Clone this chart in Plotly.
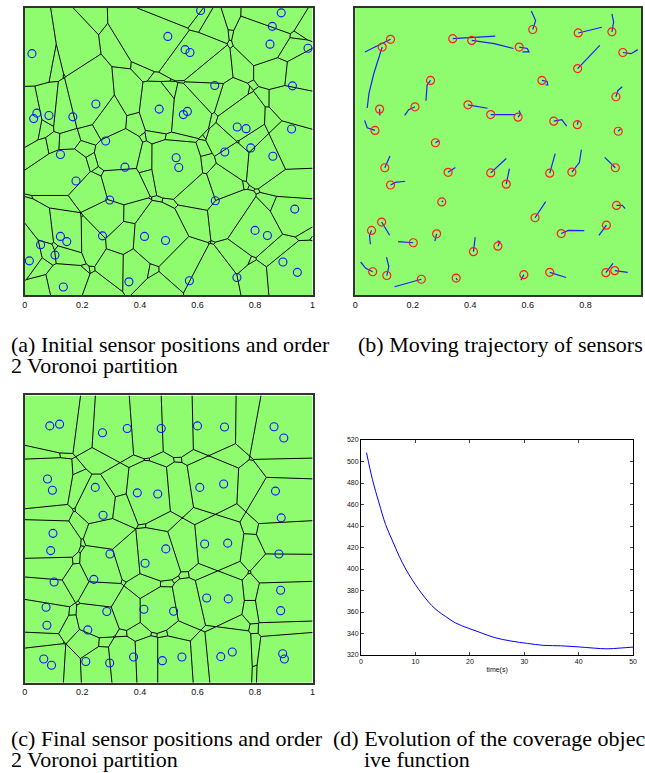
import numpy as np
import plotly.graph_objects as go

W, H = 645, 773

# ---------------- data ----------------
# (a) initial sensor positions
xa = [0.611, 0.891, 0.860, 0.497, 0.852, 0.557, 0.574, 0.025, 0.984, 0.660,
      0.930, 0.247, 0.467, 0.565, 0.551, 0.042, 0.084, 0.031, 0.167, 0.738,
      0.769, 0.927, 0.281, 0.785, 0.695, 0.124, 0.526, 0.862, 0.535, 0.348,
      0.178, 0.295, 0.662, 0.938, 0.800, 0.843, 0.124, 0.146, 0.270, 0.416,
      0.489, 0.055, 0.105, 0.016, 0.897, 0.947, 0.737, 0.362, 0.572, 0.134]
ya = [0.991, 0.983, 0.936, 0.901, 0.874, 0.855, 0.845, 0.841, 0.860, 0.730,
      0.729, 0.666, 0.648, 0.640, 0.629, 0.634, 0.626, 0.615, 0.621, 0.586,
      0.580, 0.579, 0.537, 0.513, 0.499, 0.490, 0.479, 0.484, 0.445, 0.446,
      0.398, 0.332, 0.329, 0.300, 0.226, 0.208, 0.205, 0.187, 0.207, 0.205,
      0.191, 0.176, 0.140, 0.120, 0.116, 0.080, 0.062, 0.047, 0.051, 0.029]

# (c) final sensor positions
xc = [0.087, 0.121, 0.270, 0.356, 0.474, 0.600, 0.694, 0.866, 0.900, 0.079,
      0.096, 0.245, 0.391, 0.462, 0.608, 0.691, 0.871, 0.272, 0.891, 0.098,
      0.090, 0.296, 0.490, 0.418, 0.625, 0.705, 0.883, 0.102, 0.240, 0.889,
      0.632, 0.707, 0.889, 0.074, 0.285, 0.414, 0.517, 0.077, 0.219, 0.066,
      0.093, 0.212, 0.295, 0.378, 0.478, 0.546, 0.681, 0.721, 0.896, 0.902]
yc = [0.894, 0.900, 0.870, 0.885, 0.885, 0.894, 0.890, 0.891, 0.852, 0.709,
      0.670, 0.680, 0.661, 0.657, 0.680, 0.692, 0.667, 0.583, 0.574, 0.520,
      0.460, 0.448, 0.466, 0.416, 0.483, 0.486, 0.448, 0.351, 0.360, 0.322,
      0.295, 0.292, 0.251, 0.263, 0.248, 0.256, 0.249, 0.200, 0.184, 0.083,
      0.061, 0.074, 0.069, 0.090, 0.077, 0.090, 0.091, 0.107, 0.101, 0.083]

# (b) trajectories: first point of each path is the final position (red circle)
path_x = [
    [0.617, 0.627, 0.612], [0.775, 0.857], [0.892, 0.898, 0.892], [0.123, 0.034],
    [0.094, 0.065, 0.048, 0.042], [0.339, 0.487], [0.405, 0.483, 0.550],
    [0.570, 0.598, 0.604, 0.581], [0.930, 0.959, 0.982], [0.773, 0.850],
    [0.262, 0.250, 0.246], [0.649, 0.667, 0.669, 0.661], [0.906, 0.913, 0.928],
    [0.085, 0.086], [0.208, 0.186, 0.172], [0.392, 0.460], [0.471, 0.558],
    [0.566, 0.575, 0.569], [0.690, 0.718, 0.735], [0.772, 0.775], [0.914, 0.922],
    [0.069, 0.042, 0.033], [0.279, 0.292], [0.103, 0.121], [0.323, 0.348],
    [0.471, 0.525], [0.525, 0.536], [0.676, 0.695], [0.753, 0.779, 0.786],
    [0.904, 0.867], [0.123, 0.140, 0.174], [0.301, 0.306], [0.625, 0.662],
    [0.908, 0.928, 0.938], [0.092, 0.120], [0.057, 0.050, 0.053], [0.202, 0.149],
    [0.283, 0.277], [0.411, 0.417], [0.496, 0.503, 0.495], [0.716, 0.741, 0.796],
    [0.873, 0.847], [0.061, 0.037, 0.019], [0.110, 0.117, 0.109], [0.230, 0.137],
    [0.351, 0.355], [0.586, 0.576], [0.676, 0.733], [0.871, 0.896], [0.902, 0.947]]
path_y = [
    [0.925, 0.956, 0.989], [0.913, 0.933], [0.917, 0.951, 0.979], [0.891, 0.847],
    [0.864, 0.772, 0.703, 0.652], [0.893, 0.902], [0.887, 0.876, 0.859],
    [0.864, 0.859, 0.847, 0.847], [0.845, 0.841, 0.855], [0.789, 0.870],
    [0.748, 0.732, 0.677], [0.748, 0.744, 0.732, 0.732], [0.691, 0.713, 0.726],
    [0.648, 0.626], [0.656, 0.646, 0.626], [0.663, 0.651], [0.629, 0.629],
    [0.620, 0.631, 0.643], [0.606, 0.611, 0.589], [0.594, 0.606], [0.571, 0.579],
    [0.574, 0.583, 0.609], [0.531, 0.539], [0.444, 0.485], [0.428, 0.445],
    [0.426, 0.476], [0.387, 0.441], [0.425, 0.493], [0.429, 0.462, 0.507],
    [0.444, 0.480], [0.384, 0.393, 0.397], [0.325, 0.329], [0.270, 0.326],
    [0.313, 0.313, 0.302], [0.255, 0.209], [0.226, 0.209, 0.178], [0.183, 0.187],
    [0.214, 0.189], [0.152, 0.202], [0.171, 0.186, 0.190], [0.215, 0.226, 0.225],
    [0.244, 0.209], [0.082, 0.094, 0.116], [0.069, 0.100, 0.133], [0.056, 0.030],
    [0.060, 0.053], [0.072, 0.053], [0.080, 0.062], [0.079, 0.111], [0.086, 0.080]]

# (d) coverage objective vs time
t_d = [1.0, 2.1, 3.3, 4.5, 5.8, 7.0, 8.2, 9.4, 10.6, 11.8, 13.0, 14.2, 15.5,
       17.3, 19.7, 22.1, 24.5, 27.6, 30.6, 33.6, 36.7, 39.7, 42.7, 45.2, 47.6, 50.0]
J_d = [508.3, 483.0, 461.5, 441.5, 426.0, 412.0, 400.0, 390.0, 381.0, 373.0,
       366.0, 360.6, 356.0, 350.0, 345.0, 340.6, 336.3, 333.0, 330.8, 329.0,
       328.6, 327.7, 326.5, 325.8, 326.5, 327.4]

sq_ticks = [0, 0.2, 0.4, 0.6, 0.8, 1]
sq_tick_text = ["0", "0.2", "0.4", "0.6", "0.8", "1"]
d_xticks = [0, 10, 20, 30, 40, 50]
d_yticks = [320, 340, 360, 380, 400, 420, 440, 460, 480, 500, 520]

captions = [
    ("(a) Initial sensor positions and order", 6, 344),
    ("2 Voronoi partition", 6, 365),
    ("(b) Moving trajectory of sensors", 357, 344),
    ("(c) Final sensor positions and order", 6, 741),
    ("2 Voronoi partition", 6, 762),
    ("(d) Evolution of the coverage object", 332, 741),
    ("ive function", 363, 762),
]

GREEN = "#8ffc70"
BLUE = "rgb(20,20,255)"


# ---------------- order-2 Voronoi edges ----------------
def order2_edges(px, py):
    P = np.column_stack([px, py]).astype(float)
    n = len(P)
    sq = np.sum(P ** 2, axis=1)
    xs, ys = [], []
    for j in range(n):
        for k in range(j + 1, n):
            pj, pk = P[j], P[k]
            m = (pj + pk) / 2
            v = pk - pj
            d = np.array([-v[1], v[0]]) / np.hypot(v[0], v[1])
            tlo, thi = -np.inf, np.inf
            ok = True
            for ax in range(2):
                if abs(d[ax]) < 1e-12:
                    if m[ax] < 0 or m[ax] > 1:
                        ok = False
                    continue
                t1 = (0 - m[ax]) / d[ax]
                t2 = (1 - m[ax]) / d[ax]
                tlo = max(tlo, min(t1, t2))
                thi = min(thi, max(t1, t2))
            if not ok or tlo >= thi:
                continue
            idx = np.array([i for i in range(n) if i != j and i != k])
            Q = P[idx]
            diff = pj - Q
            a = 2 * (diff @ m) - (sq[j] - sq[idx])
            b = 2 * (diff @ d)
            with np.errstate(divide="ignore", invalid="ignore"):
                br = -a / b
            br = br[np.isfinite(br)]
            br = br[(br > tlo) & (br < thi)]
            ts = np.concatenate([[tlo], np.sort(br), [thi]])
            mids = (ts[:-1] + ts[1:]) / 2
            cnt = np.sum(a[:, None] + b[:, None] * mids[None, :] < 0, axis=0)
            keep = cnt == 1
            s = 0
            while s < len(mids):
                if keep[s]:
                    e = s
                    while e + 1 < len(mids) and keep[e + 1]:
                        e += 1
                    p0 = m + ts[s] * d
                    p1 = m + ts[e + 1] * d
                    xs += [p0[0], p1[0], None]
                    ys += [p0[1], p1[1], None]
                    s = e + 1
                else:
                    s += 1
    return xs, ys


fig = go.Figure()

# (a)
ex, ey = order2_edges(xa, ya)
fig.add_trace(go.Scatter(x=ex, y=ey, mode="lines", line=dict(color="black", width=1),
                         hoverinfo="skip", xaxis="x", yaxis="y", showlegend=False))
fig.add_trace(go.Scatter(x=xa, y=ya, mode="markers", cliponaxis=False,
                         marker=dict(symbol="circle-open", size=8, color=BLUE, line=dict(width=1.1)),
                         xaxis="x", yaxis="y", showlegend=False))

# (b)
tx, ty = [], []
for px_, py_ in zip(path_x, path_y):
    tx += list(px_) + [None]
    ty += list(py_) + [None]
fig.add_trace(go.Scatter(x=tx, y=ty, mode="lines", line=dict(color="rgb(30,30,255)", width=1.2),
                         hoverinfo="skip", xaxis="x2", yaxis="y2", showlegend=False))
fig.add_trace(go.Scatter(x=[p[0] for p in path_x], y=[p[0] for p in path_y], mode="markers",
                         marker=dict(symbol="circle-open", size=8, color="rgb(255,30,30)", line=dict(width=1.2)),
                         xaxis="x2", yaxis="y2", showlegend=False))

# (c)
ex, ey = order2_edges(xc, yc)
fig.add_trace(go.Scatter(x=ex, y=ey, mode="lines", line=dict(color="black", width=1),
                         hoverinfo="skip", xaxis="x3", yaxis="y3", showlegend=False))
fig.add_trace(go.Scatter(x=xc, y=yc, mode="markers", cliponaxis=False,
                         marker=dict(symbol="circle-open", size=8, color=BLUE, line=dict(width=1.1)),
                         xaxis="x3", yaxis="y3", showlegend=False))

# (d)
fig.add_trace(go.Scatter(x=t_d, y=J_d, mode="lines", line=dict(color="rgb(0,0,255)", width=1, shape="spline"),
                         xaxis="x4", yaxis="y4", showlegend=False))


def px2x(p):
    return p / W


def py2y(p):
    return 1 - p / H


sq_font = dict(family="Liberation Sans, Arial", size=9, color="#111")
sq_x = dict(range=[0, 1], tickvals=sq_ticks, ticktext=sq_tick_text, ticks="", showgrid=False,
            zeroline=False, showline=True, mirror=True, linecolor="#333", linewidth=1.5,
            tickfont=sq_font)
sq_y = dict(range=[0, 1], showticklabels=False, ticks="", showgrid=False, zeroline=False,
            showline=True, mirror=True, linecolor="#333", linewidth=1.5)

fig.update_layout(
    width=W, height=H, margin=dict(l=0, r=0, t=0, b=0),
    paper_bgcolor="white", plot_bgcolor="rgba(0,0,0,0)",
    xaxis=dict(sq_x, domain=[px2x(22), px2x(313)], anchor="y"),
    yaxis=dict(sq_y, domain=[py2y(294), py2y(4)], anchor="x"),
    xaxis2=dict(sq_x, domain=[px2x(356), 1.0], anchor="y2", range=[0, (W - 356) / 291.0]),
    yaxis2=dict(sq_y, domain=[py2y(294), py2y(4)], anchor="x2"),
    xaxis3=dict(sq_x, domain=[px2x(22), px2x(313)], anchor="y3"),
    yaxis3=dict(sq_y, domain=[py2y(685), py2y(395)], anchor="x3"),
    xaxis4=dict(domain=[px2x(362), px2x(637)], anchor="y4", range=[0, 50], tickvals=d_xticks,
                ticks="inside", ticklen=3, showline=True, mirror="ticks", linecolor="black",
                linewidth=1, showgrid=False, zeroline=False,
                tickfont=dict(family="Liberation Sans, Arial", size=7, color="#111"),
                title=dict(text="time(s)", font=dict(family="Liberation Sans, Arial", size=7, color="#111"),
                           standoff=2)),
    yaxis4=dict(domain=[py2y(657), py2y(440)], anchor="x4", range=[320, 520], tickvals=d_yticks,
                ticks="inside", ticklen=3, showline=True, mirror="ticks", linecolor="black",
                linewidth=1, showgrid=False, zeroline=False,
                tickfont=dict(family="Liberation Sans, Arial", size=7, color="#111")),
    font=dict(family="Liberation Sans, Arial"),
)

for xr, yr in [("x", "y"), ("x2", "y2"), ("x3", "y3")]:
    fig.add_shape(type="rect", xref=xr, yref=yr, x0=0, x1=1, y0=0, y1=1,
                  fillcolor=GREEN, line=dict(width=0), layer="below")

for text, xp, yp in captions:
    fig.add_annotation(text=text, xref="paper", yref="paper", x=px2x(xp), y=py2y(yp),
                       xanchor="left", yanchor="middle", showarrow=False,
                       font=dict(family="Liberation Serif, Times New Roman", size=22, color="black"))

fig.write_html("out.html", config={"displayModeBar": False},
               post_script="document.body.style.margin='0px';document.body.style.overflow='hidden';")
